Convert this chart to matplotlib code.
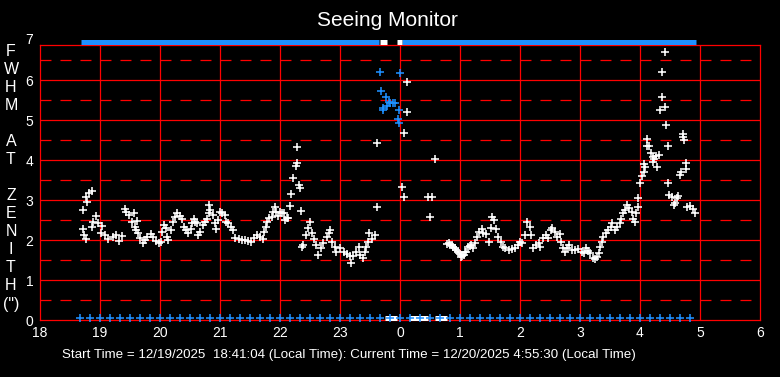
import matplotlib
matplotlib.use("Agg")
import matplotlib.pyplot as plt
import matplotlib.transforms as mtransforms

plt.rcParams['font.family'] = ['Liberation Sans', 'DejaVu Sans']
plt.rcParams['lines.scale_dashes'] = False

# ---------------- data ----------------
title = "Seeing Monitor"
footer = "Start Time = 12/19/2025  18:41:04 (Local Time): Current Time = 12/20/2025 4:55:30 (Local Time)"
ylabel_chars = ['F', 'W', 'H', 'M', '', 'A', 'T', '', 'Z', 'E', 'N', 'I', 'T', 'H', '(")']
x_ticks = list(range(18, 31))
x_tick_labels = ['18', '19', '20', '21', '22', '23', '0', '1', '2', '3', '4', '5', '6']
y_ticks = [0, 1, 2, 3, 4, 5, 6]
y_top_label = 7

# measured FWHM (white), time in hours (after midnight = 24+)
white_t = [18.71, 18.72, 18.73, 18.76, 18.77, 18.79, 18.82, 18.86, 18.87, 18.89, 18.93, 18.97,
           19.01, 19.04, 19.08, 19.14, 19.22, 19.27, 19.32, 19.37, 19.41, 19.44, 19.49, 19.53,
           19.56, 19.58, 19.60, 19.62, 19.64, 19.67, 19.71, 19.75, 19.79, 19.85, 19.89, 19.93,
           19.98, 20.01, 20.03, 20.06, 20.10, 20.12, 20.14, 20.18, 20.21, 20.25, 20.29, 20.33,
           20.36, 20.40, 20.43, 20.47, 20.51, 20.53, 20.56, 20.58, 20.62, 20.64, 20.66, 20.71,
           20.75, 20.78, 20.81, 20.81, 20.83, 20.88, 20.92, 20.93, 20.97, 21.00, 21.04, 21.08,
           21.10, 21.14, 21.18, 21.21, 21.25, 21.31, 21.36, 21.42, 21.47, 21.51, 21.56, 21.61,
           21.67, 21.72, 21.73, 21.77, 21.79, 21.82, 21.86, 21.89, 21.91, 21.94, 21.97, 22.00,
           22.04, 22.06, 22.08, 22.11, 22.14, 22.17, 22.19, 22.22, 22.26, 22.28, 22.29, 22.31,
           22.33, 22.35, 22.36, 22.39, 22.44, 22.47, 22.50, 22.53, 22.57, 22.60, 22.64, 22.69,
           22.72, 22.78, 22.81, 22.83, 22.87, 22.92, 22.94, 23.00, 23.06, 23.11, 23.17, 23.18,
           23.22, 23.27, 23.31, 23.33, 23.38, 23.42, 23.44, 23.47, 23.49, 23.53, 23.58, 23.61,
           23.62, 24.04, 24.06, 24.07, 24.11, 24.12, 24.47, 24.50, 24.54, 24.58, 24.78, 24.81,
           24.83, 24.86, 24.89, 24.92, 24.94, 24.97, 25.00, 25.01, 25.04, 25.06, 25.08, 25.10,
           25.14, 25.16, 25.19, 25.22, 25.25, 25.28, 25.32, 25.36, 25.39, 25.43, 25.49, 25.52,
           25.53, 25.56, 25.60, 25.64, 25.68, 25.71, 25.75, 25.81, 25.86, 25.92, 25.96, 26.00,
           26.04, 26.08, 26.12, 26.16, 26.19, 26.22, 26.27, 26.31, 26.34, 26.39, 26.43, 26.47,
           26.51, 26.54, 26.58, 26.62, 26.66, 26.68, 26.71, 26.75, 26.79, 26.82, 26.86, 26.92,
           26.97, 27.03, 27.07, 27.10, 27.14, 27.17, 27.21, 27.25, 27.28, 27.31, 27.33, 27.36,
           27.39, 27.43, 27.47, 27.51, 27.54, 27.58, 27.62, 27.67, 27.69, 27.72, 27.75, 27.78,
           27.82, 27.86, 27.89, 27.92, 27.94, 27.96, 27.97, 28.00, 28.03, 28.06, 28.07, 28.09,
           28.11, 28.12, 28.15, 28.18, 28.21, 28.22, 28.24, 28.27, 28.29, 28.31, 28.34, 28.36,
           28.37, 28.41, 28.42, 28.44, 28.46, 28.47, 28.49, 28.53, 28.56, 28.58, 28.61, 28.64,
           28.66, 28.68, 28.71, 28.72, 28.74, 28.76, 28.77, 28.79, 28.83, 28.88, 28.92]
white_v = [2.75, 2.27, 2.12, 2.02, 3.07, 2.96, 3.17, 3.22, 2.33, 2.46, 2.60, 2.42,
           2.17, 2.35, 2.12, 2.02, 2.08, 2.12, 1.98, 2.11, 2.77, 2.71, 2.62, 2.46,
           2.68, 2.33, 2.25, 2.48, 2.18, 2.04, 1.93, 2.00, 2.08, 2.15, 2.08, 1.98,
           1.92, 1.96, 2.21, 2.38, 2.29, 2.08, 2.00, 2.25, 2.46, 2.58, 2.67, 2.60,
           2.52, 2.33, 2.25, 2.17, 2.27, 2.42, 2.52, 2.46, 2.42, 2.12, 2.21, 2.38,
           2.46, 2.52, 2.67, 2.87, 2.75, 2.62, 2.42, 2.27, 2.50, 2.71, 2.67, 2.62,
           2.46, 2.42, 2.33, 2.25, 2.04, 2.02, 2.00, 2.00, 1.98, 1.96, 2.04, 2.12,
           2.08, 2.02, 2.21, 2.33, 2.46, 2.54, 2.58, 2.71, 2.83, 2.71, 2.60, 2.71,
           2.67, 2.68, 2.50, 2.54, 2.54, 2.85, 3.14, 3.54, 3.85, 4.32, 3.92, 3.38,
           3.29, 2.72, 1.82, 1.88, 2.12, 2.29, 2.46, 2.17, 2.02, 1.88, 1.63, 1.79,
           1.92, 2.08, 2.17, 2.25, 1.96, 1.82, 1.71, 1.79, 1.71, 1.65, 1.60, 1.43,
           1.60, 1.71, 1.83, 1.63, 1.54, 1.71, 1.83, 1.96, 2.18, 2.02, 2.12, 2.83,
           4.43, 3.32, 3.07, 4.67, 5.19, 5.94, 3.07, 2.58, 3.07, 4.02, 1.90, 1.92,
           1.88, 1.88, 1.83, 1.79, 1.75, 1.71, 1.65, 1.58, 1.60, 1.63, 1.71, 1.71,
           1.83, 1.85, 1.88, 1.79, 1.92, 2.08, 2.21, 2.27, 2.17, 2.15, 1.96, 2.29,
           2.57, 2.50, 2.27, 2.07, 1.96, 1.83, 1.79, 1.75, 1.77, 1.79, 1.88, 1.96,
           1.93, 2.12, 2.46, 2.33, 2.12, 1.79, 1.88, 1.93, 1.83, 2.04, 2.12, 2.04,
           2.25, 2.29, 2.21, 2.08, 2.15, 1.96, 1.79, 1.71, 1.79, 1.88, 1.75, 1.75,
           1.77, 1.71, 1.67, 1.79, 1.73, 1.67, 1.54, 1.52, 1.57, 1.68, 1.83, 1.96,
           2.08, 2.17, 2.25, 2.33, 2.42, 2.25, 2.33, 2.42, 2.52, 2.67, 2.75, 2.87,
           2.79, 2.71, 2.52, 2.46, 2.67, 2.82, 3.04, 3.42, 3.61, 3.69, 3.89, 3.83,
           4.34, 4.52, 4.34, 4.17, 3.95, 4.08, 4.02, 4.10, 3.82, 4.12, 5.24, 5.57,
           6.19, 6.69, 5.32, 4.87, 4.34, 3.42, 3.13, 3.08, 2.87, 2.93, 3.04, 3.10,
           3.62, 3.71, 4.64, 4.57, 4.49, 3.92, 3.77, 2.83, 2.85, 2.77, 2.67]

# flagged measurements (blue)
blue_t = [23.67, 23.69, 23.71, 23.72, 23.77, 23.79, 23.81, 23.83, 23.88, 23.92, 23.96, 23.98, 23.99, 24.00]
blue_v = [6.19, 5.72, 5.25, 5.29, 5.57, 5.35, 5.46, 5.42, 5.43, 5.42, 5.02, 4.93, 5.25, 6.17]

# bottom status markers (blue, every 10 minutes)
bottom_flag_t = [18.67, 18.83, 19.00, 19.17, 19.33, 19.50, 19.67, 19.83, 20.00, 20.17, 20.33, 20.50,
                 20.67, 20.83, 21.00, 21.17, 21.33, 21.50, 21.67, 21.83, 22.00, 22.17, 22.33, 22.50,
                 22.67, 22.83, 23.00, 23.17, 23.33, 23.50, 23.67, 23.83, 24.00, 24.17, 24.33, 24.50,
                 24.67, 24.83, 25.00, 25.17, 25.33, 25.50, 25.67, 25.83, 26.00, 26.17, 26.33, 26.50,
                 26.67, 26.83, 27.00, 27.17, 27.33, 27.50, 27.67, 27.83, 28.00, 28.17, 28.33, 28.50,
                 28.67, 28.83]
bottom_flag_v = 0.05
# bottom white (zero) stretches
bottom_white_segments = [(23.75, 23.95), (24.15, 24.47), (24.58, 24.78)]
# top band (saturated) stretches
top_band_v = 6.94
top_blue_segments = [(18.69, 23.65), (24.03, 28.93)]
top_white_segments = [(23.66, 23.78), (23.95, 24.03)]

# ---------------- styling ----------------
BLUE = '#1E90FF'
RED = '#FF0000'
W, H = 780, 377

fig = plt.figure(figsize=(W / 100, H / 100), dpi=100, facecolor='black')
ax = fig.add_axes([40 / W, (H - 320) / H, 720 / W, 275 / H])
ax.set_facecolor('black')
ax.set_xlim(18, 30)
ax.set_ylim(0, 6.875)

lw = 0.9
for y in [1, 2, 3, 4, 5, 6]:
    ax.axhline(y, color=RED, lw=lw, zorder=1)
for y in [0.5, 1.5, 2.5, 3.5, 4.5, 5.5, 6.5]:
    ax.axhline(y, color=RED, lw=lw, zorder=1, dashes=(7.9, 6.5))
for x in range(19, 30):
    ax.axvline(x, color=RED, lw=lw, zorder=1)
for s in ax.spines.values():
    s.set_color(RED)
    s.set_linewidth(lw)
    s.set_zorder(1)

ax.set_xticks(x_ticks)
ax.set_xticklabels(x_tick_labels)
ax.set_yticks(y_ticks)
ax.set_yticklabels([str(v) for v in y_ticks])
ax.tick_params(axis='both', length=0, colors='white', labelsize=10)
ax.tick_params(axis='x', pad=4)
ax.tick_params(axis='y', pad=4.8)
trans = mtransforms.blended_transform_factory(ax.transAxes, ax.transData)
ax.text(-4.8 / 72 * 100 / 720, y_top_label, str(y_top_label), transform=trans, ha='right', va='center',
        color='white', fontsize=10, clip_on=False)

ms = 5.5
mew = 1.15
# top band
for a, b in top_blue_segments:
    ax.hlines(top_band_v, a, b, color=BLUE, lw=3.6, clip_on=False, zorder=3)
for a, b in top_white_segments:
    ax.hlines(top_band_v, a, b, color='white', lw=3.6, clip_on=False, zorder=3)
# bottom
for a, b in bottom_white_segments:
    ax.hlines(bottom_flag_v, a, b, color='white', lw=3.6, clip_on=False, zorder=3)
ax.plot(bottom_flag_t, [bottom_flag_v] * len(bottom_flag_t), ls='none', marker='+', ms=ms, mew=mew,
        color=BLUE, clip_on=False, zorder=4)

ax.plot(white_t, white_v, ls='none', marker='+', ms=ms, mew=mew, color='white', zorder=4)
ax.plot(blue_t, blue_v, ls='none', marker='+', ms=ms, mew=mew, color=BLUE, zorder=4)

# title, vertical label, footer
fig.text(387 / W, 1 - 20 / H, title, ha='center', va='center', color='white', fontsize=15)
for k, ch in enumerate(ylabel_chars):
    if ch:
        fig.text(11 / W, 1 - (52 + 18 * k) / H, ch, ha='center', va='center', color='white', fontsize=11.5)
fig.text(62 / W, 1 - 355 / H, footer, ha='left', va='center', color='white', fontsize=9.6)

fig.savefig('out.png', dpi=100, facecolor='black')
